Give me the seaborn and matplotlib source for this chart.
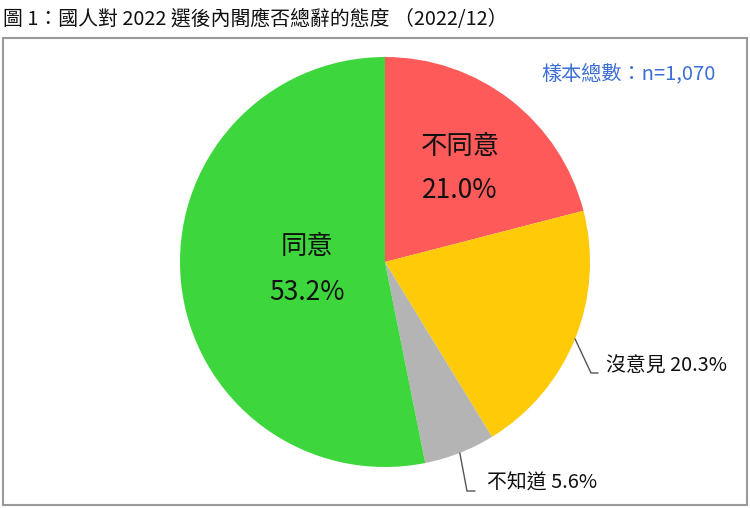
import numpy as np
import matplotlib
matplotlib.use("Agg")
import matplotlib.pyplot as plt
from matplotlib.patches import Rectangle
import seaborn as sns

# data
labels = ["不同意", "沒意見", "不知道", "同意"]
shares = [21.0, 20.3, 5.6, 53.2]
colors = ["#FF5A5A", "#FFCA08", "#B4B4B4", "#3DD63D"]
title = "圖 1：國人對 2022 選後內閣應否總辭的態度 （2022/12）"
sample_note = "樣本總數：n=1,070"

sns.set_theme(style="white")
plt.rcParams["font.family"] = ["Noto Sans CJK TC", "DejaVu Sans"]

W, H = 750, 508
fig = plt.figure(figsize=(W / 100, H / 100), dpi=100)
ax = fig.add_axes([0, 0, 1, 1])

# pie, in pixel-like data coordinates (y from bottom)
cx, cy, r = 385, 246, 205
wedges, _ = ax.pie(shares, colors=colors, startangle=90, counterclock=False,
                   center=(cx, cy), radius=r, wedgeprops=dict(linewidth=0))
ax.set_xlim(0, W)
ax.set_ylim(0, H)
ax.set_aspect("auto")
ax.axis("off")

# frame around the chart
ax.add_patch(Rectangle((3, 3), W - 6, H - 41, fill=False, edgecolor="#9A9A9A", lw=1.5))

fig.text(3 / W, 1 - 19 / H, title, fontsize=14.3, color="#111111", va="center", ha="left")
ax.text(716, H - 74, sample_note, fontsize=14.5, color="#3B6FD6", ha="right", va="center")

# labels inside the big slices
inside = {0: (460, 147, 190), 3: (307, 246, 292)}
for i, (x, y1, y2) in inside.items():
    ax.text(x, H - y1, labels[i], fontsize=19, ha="center", va="center", color="#111111")
    ax.text(x, H - y2, f"{shares[i]:.1f}%", fontsize=19, ha="center", va="center", color="#111111")

# outside labels with leader lines
outside = {1: ((591, 373), (598, 373), (606, 366)),
           2: ((467, 491), (475, 491), (487, 483))}
for i, (knee, end, txt) in outside.items():
    w = wedges[i]
    mid = np.deg2rad((w.theta1 + w.theta2) / 2)
    sx, sy = cx + r * np.cos(mid), cy + r * np.sin(mid)
    ax.plot([sx, knee[0], end[0]], [sy, H - knee[1], H - end[1]], color="#555555", lw=1)
    ax.text(txt[0], H - txt[1], f"{labels[i]} {shares[i]:.1f}%", fontsize=14.3,
            ha="left", va="center", color="#111111")

fig.savefig("out.png", dpi=100)
